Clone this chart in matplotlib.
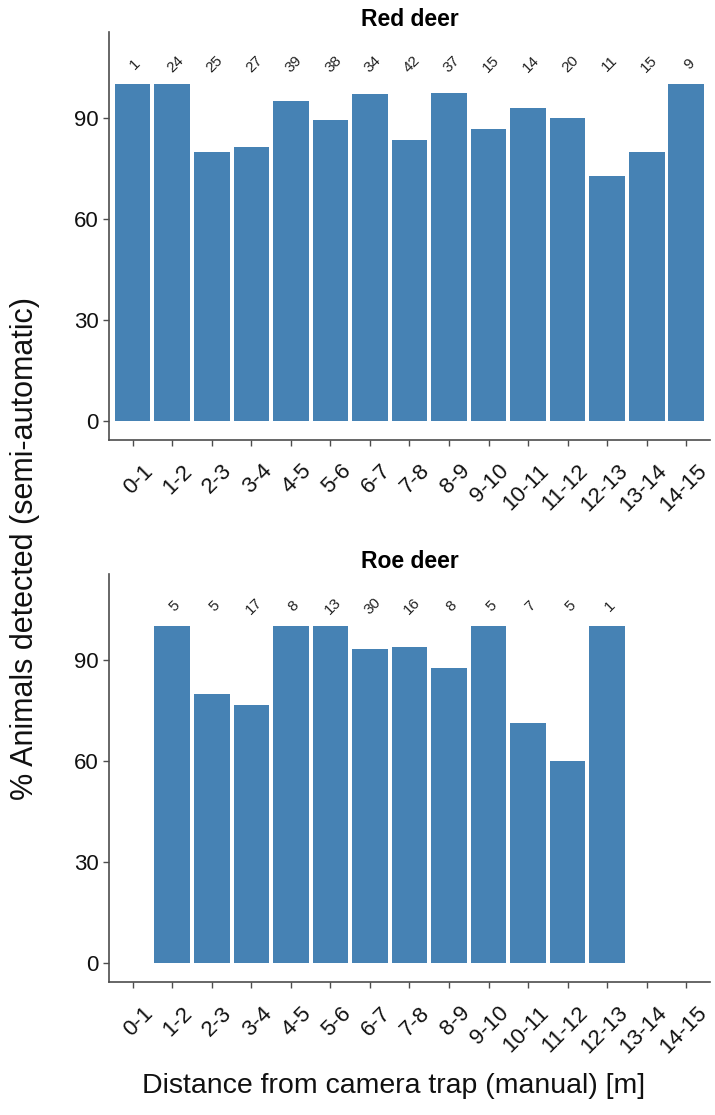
import numpy as np
import matplotlib
matplotlib.use("Agg")
from matplotlib import pyplot as plt
from matplotlib.transforms import ScaledTranslation

plt.rcParams['font.family'] = ['Liberation Sans', 'DejaVu Sans']

# distance classes (m)
classes = ["0-1", "1-2", "2-3", "3-4", "4-5", "5-6", "6-7", "7-8",
           "8-9", "9-10", "10-11", "11-12", "12-13", "13-14", "14-15"]

# red deer: % detected and number of animals per class
red_pct = [100, 100, 80, 81.5, 94.9, 89.5, 97.1, 83.3,
           97.3, 86.7, 92.9, 90, 72.7, 80, 100]
red_n = [1, 24, 25, 27, 39, 38, 34, 42, 37, 15, 14, 20, 11, 15, 9]

# roe deer: no animals in 0-1, 13-14, 14-15
roe_pct = [np.nan, 100, 80, 76.5, 100, 100, 93.3, 93.8,
           87.5, 100, 71.4, 60, 100, np.nan, np.nan]
roe_n = [None, 5, 5, 17, 8, 13, 30, 16, 8, 5, 7, 5, 1, None, None]

bar_col = "#4682B4"
axis_col = "#4d4d4d"

fig = plt.figure(figsize=(7.15, 11.15), dpi=100)
ax1 = fig.add_axes([0.1524, 0.6058, 0.8406, 0.3655])
ax2 = fig.add_axes([0.1524, 0.1196, 0.8406, 0.3656])


def draw_panel(ax, title, pct, n):
    x = np.arange(len(classes))
    pct = np.array(pct, dtype=float)
    ok = ~np.isnan(pct)
    ax.bar(x[ok], pct[ok], width=0.9, color=bar_col, edgecolor="none")
    for xi, v in zip(x, n):
        if v is not None:
            ax.text(xi + 0.07, 106, str(v), rotation=45, ha="center",
                    va="center", fontsize=11, color="#222222")
    ax.set_xlim(-0.6, len(classes) - 0.4)
    ax.set_ylim(-5.5, 115.5)
    ax.set_yticks([0, 30, 60, 90])
    ax.set_xticks(x)
    ax.set_xticklabels(classes, rotation=45, ha="right", va="top",
                       rotation_mode="anchor")
    ax.tick_params(axis="both", labelsize=16, color=axis_col, length=4,
                   width=1, labelcolor="#111111")
    ax.tick_params(axis="x", pad=6)
    # nudge the rotated labels right/down a bit
    shift = ScaledTranslation(0.10, -0.07, fig.dpi_scale_trans)
    for lab in ax.get_xticklabels():
        lab.set_transform(lab.get_transform() + shift)
    for s in ["top", "right"]:
        ax.spines[s].set_visible(False)
    for s in ["left", "bottom"]:
        ax.spines[s].set_color(axis_col)
        ax.spines[s].set_linewidth(1.2)
    ax.set_title(title, fontsize=16.5, fontweight="bold", pad=4)


draw_panel(ax1, "Red deer", red_pct, red_n)
draw_panel(ax2, "Roe deer", roe_pct, roe_n)

fig.text(0.035, 0.508, "% Animals detected (semi-automatic)", rotation=90,
         ha="center", va="center", fontsize=22, color="#111111")
fig.text(0.55, 0.026, "Distance from camera trap (manual) [m]",
         ha="center", va="center", fontsize=20.5, color="#111111")

fig.savefig("out.png", dpi=100)
